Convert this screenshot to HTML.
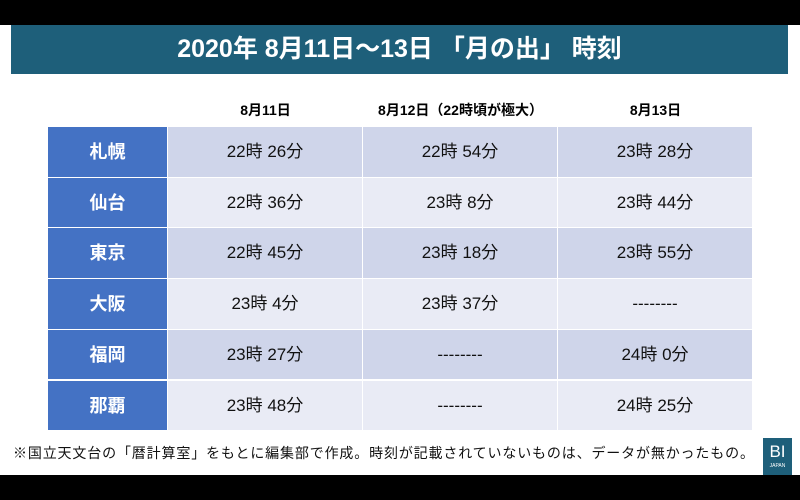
<!DOCTYPE html>
<html><head><meta charset="utf-8"><style>
body{margin:0;width:800px;height:500px;background:#fff;position:relative;overflow:hidden;font-family:"Liberation Sans","Noto Sans CJK JP",sans-serif}
.blk{position:absolute;left:0;width:800px;background:#000}
#title{position:absolute;left:11px;top:25px;width:777px;height:49px;background:#1e5f7a;color:#fff;font-weight:bold;font-size:25px;text-align:center;line-height:49px}
.hd{position:absolute;top:100px;height:20px;font-size:14px;font-weight:bold;text-align:center;color:#000}
.cell{position:absolute;height:50px;text-align:center;line-height:50px;font-size:17px;color:#111;box-sizing:border-box;border-right:1px solid #fff;border-bottom:1px solid #fff}
.lab{background:#4472c4;color:#fff;font-weight:bold;font-size:18px}
#note{position:absolute;left:13px;top:443px;font-size:14px;letter-spacing:0.85px;color:#111;white-space:nowrap}
#logo{position:absolute;left:763px;top:438px;width:29px;height:37px;background:#1e5f7a;color:#fff;text-align:center}
</style></head><body>
<div class="blk" style="top:0;height:25px"></div>
<div class="blk" style="top:475px;height:25px"></div>
<div id="title">2020年 8月11日～13日 「月の出」 時刻</div>
<div id="tbl"></div>
<div id="note">※国立天文台の「暦計算室」をもとに編集部で作成。時刻が記載されていないものは、データが無かったもの。</div>
<div id="logo"><div style="font-size:17px;line-height:22px;margin-top:3px">BI</div><div style="font-size:5px">JAPAN</div></div>
<script>
const headers=["8月11日","8月12日（22時頃が極大）","8月13日"];
const cities=["札幌","仙台","東京","大阪","福岡","那覇"];
const d11=["22時 26分","22時 36分","22時 45分","23時 4分","23時 27分","23時 48分"];
const d12=["22時 54分","23時 8分","23時 18分","23時 37分","--------","--------"];
const d13=["23時 28分","23時 44分","23時 55分","--------","24時 0分","24時 25分"];
const cols=[[168,195],[363,195],[558,195]];
const b=document.body;
headers.forEach((h,i)=>{const e=document.createElement('div');e.className='hd';e.style.left=cols[i][0]+'px';e.style.width=cols[i][1]+'px';e.textContent=h;


b.appendChild(e);});
const rh=50.7,top0=127;
cities.forEach((c,r)=>{
 const y=top0+r*rh, bg=r%2?'#e9ebf5':'#cfd5ea';
 const l=document.createElement('div');l.className='cell lab';l.style.cssText+=`left:48px;width:120px;top:${y}px;height:${rh}px;line-height:${rh}px`;l.textContent=c;
 
 
 b.appendChild(l);
 [d11,d12,d13].forEach((arr,i)=>{const e=document.createElement('div');e.className='cell';e.style.cssText+=`left:${cols[i][0]}px;width:${cols[i][1]}px;top:${y}px;height:${rh}px;line-height:${rh}px;background:${bg}`;e.textContent=arr[r];
 
 
 b.appendChild(e);});
});
</script>
</body></html>
